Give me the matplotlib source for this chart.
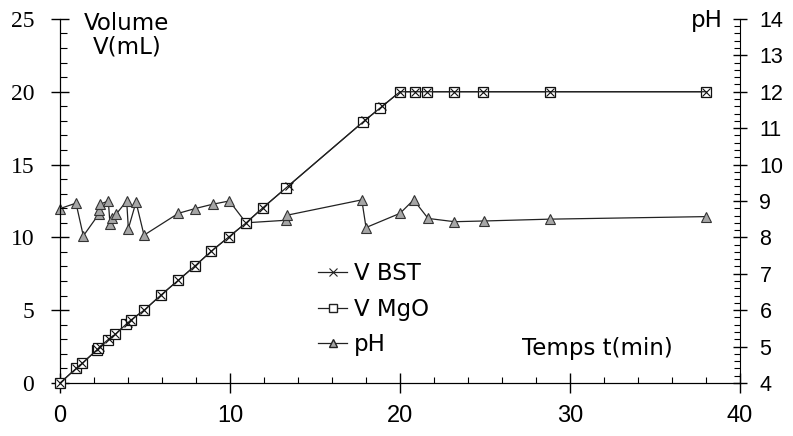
import numpy as np
from matplotlib import pyplot as plt, rcParams
from matplotlib.lines import Line2D

rcParams['font.family'] = ['DejaVu Sans']

# 体积数据 (min, mL)
t_mgo = [0, 0.95, 1.3, 2.15, 2.25, 2.85, 3.25, 3.9, 4.2, 4.95, 5.95, 6.95, 7.95, 8.9, 9.95,
         10.95, 11.95, 13.3, 17.8, 18.8, 20, 20.9, 21.6, 23.2, 24.9, 28.8, 38]
v_mgo = [0, 1.0, 1.35, 2.25, 2.4, 2.95, 3.35, 4.05, 4.35, 5.0, 6.05, 7.05, 8.05, 9.05, 10.05,
         11.0, 12.05, 13.4, 17.9, 18.85, 20, 20, 20, 20, 20, 20, 20]
t_bst = [0, 0.95, 1.3, 2.2, 2.35, 2.9, 3.25, 4.0, 4.2, 4.95, 5.95, 6.95, 7.95, 8.9, 9.95,
         10.95, 11.95, 13.45, 17.95, 18.95, 20, 20.9, 21.6, 23.2, 24.9, 28.8, 38]
v_bst = [0, 1.0, 1.35, 2.3, 2.5, 3.05, 3.35, 4.15, 4.35, 5.0, 6.05, 7.05, 8.05, 9.05, 10.05,
         11.0, 12.05, 13.55, 18.05, 19.0, 20, 20, 20, 20, 20, 20, 20]

# pH 数据
t_ph = [0, 0.94, 1.37, 2.27, 2.31, 2.35, 2.84, 2.94, 3.04, 3.29, 3.92, 4.02, 4.47, 4.94,
        6.96, 7.94, 8.98, 9.96, 10.94, 13.3, 13.37, 17.75, 18.0, 20.0, 20.8, 21.65, 23.2,
        24.96, 28.8, 38.0]
ph = [8.79, 8.94, 8.04, 8.63, 8.75, 8.91, 9.0, 8.36, 8.52, 8.63, 9.0, 8.24, 8.97, 8.06,
      8.66, 8.79, 8.91, 9.0, 8.4, 8.47, 8.61, 9.03, 8.27, 8.66, 9.03, 8.52, 8.43,
      8.45, 8.5, 8.57]

fig = plt.figure(figsize=(7.93, 4.36), dpi=100)
ax = fig.add_axes([0.0757, 0.1216, 0.8575, 0.835])
ax2 = ax.twinx()

# pH 曲线
ax2.plot(t_ph, ph, '-', color='#222222', linewidth=0.9, marker='^', markersize=7.5,
         markerfacecolor='#a6a6a6', markeredgecolor='#333333', markeredgewidth=0.8,
         clip_on=False, zorder=2)

# 体积曲线
ax.plot(t_mgo, v_mgo, '-', color='#222222', linewidth=0.9, marker='s', markersize=6.5,
        markerfacecolor='white', markeredgecolor='#111111', markeredgewidth=0.9,
        clip_on=False, zorder=3)
ax.plot(t_bst, v_bst, '-', color='#222222', linewidth=0.9, marker='x', markersize=5.5,
        markeredgecolor='#111111', markeredgewidth=0.8, clip_on=False, zorder=4)
ax.set_zorder(ax2.get_zorder() + 1)
ax.patch.set_visible(False)

ax.set_xlim(0, 40)
ax.set_ylim(0, 25)
ax2.set_ylim(4, 14)

for a in (ax, ax2):
    a.spines['top'].set_visible(False)
ax.spines['right'].set_visible(False)

ax.set_xticks([0, 10, 20, 30, 40])
ax.set_xticks(np.arange(0, 41, 2), minor=True)
ax.set_yticks([0, 5, 10, 15, 20, 25])
ax.set_yticks(np.arange(0, 26, 1), minor=True)
ax2.set_yticks(np.arange(4, 15, 1))
ax2.set_yticks(np.arange(4, 14.01, 0.2), minor=True)

ax.tick_params(axis='x', which='major', direction='inout', length=14, width=1, labelsize=17,
               pad=9, labelfontfamily='Liberation Sans')
ax.tick_params(axis='x', which='minor', direction='in', length=4, width=0.8)
ax.tick_params(axis='y', which='major', direction='inout', length=13, width=1, labelsize=17,
               pad=12, labelfontfamily='Liberation Serif')
ax.tick_params(axis='y', which='minor', direction='in', length=5, width=0.8)
ax2.tick_params(axis='y', which='major', direction='inout', length=10, width=1, labelsize=15.5,
                pad=9, labelfontfamily='Liberation Sans')
ax2.tick_params(axis='y', which='minor', direction='in', length=4, width=0.8)

fig.text(127 / 793, 1 - 12 / 436, 'Volume\nV(mL)', fontsize=16.5, ha='center', va='top',
         linespacing=1.05)
fig.text(723 / 793, 1 - 9 / 436, 'pH', fontsize=16.5, ha='right', va='top')
ax.text(0.79, 0.095, 'Temps t(min)', transform=ax.transAxes, fontsize=16.5,
        ha='center', va='center')

handles = [
    Line2D([], [], color='#222222', lw=0.9, marker='x', markersize=6, markeredgewidth=0.8),
    Line2D([], [], color='#222222', lw=0.9, marker='s', markersize=6, markerfacecolor='white'),
    Line2D([], [], color='#222222', lw=0.9, marker='^', markersize=6, markerfacecolor='#a6a6a6'),
]
ax.legend(handles, ['V BST', 'V MgO', 'pH'], loc='upper left', bbox_to_anchor=(0.363, 0.364),
          frameon=False, fontsize=16.5, handlelength=1.25, handletextpad=0.3,
          labelspacing=0.55, borderpad=0)

plt.savefig('out.png', dpi=100)
